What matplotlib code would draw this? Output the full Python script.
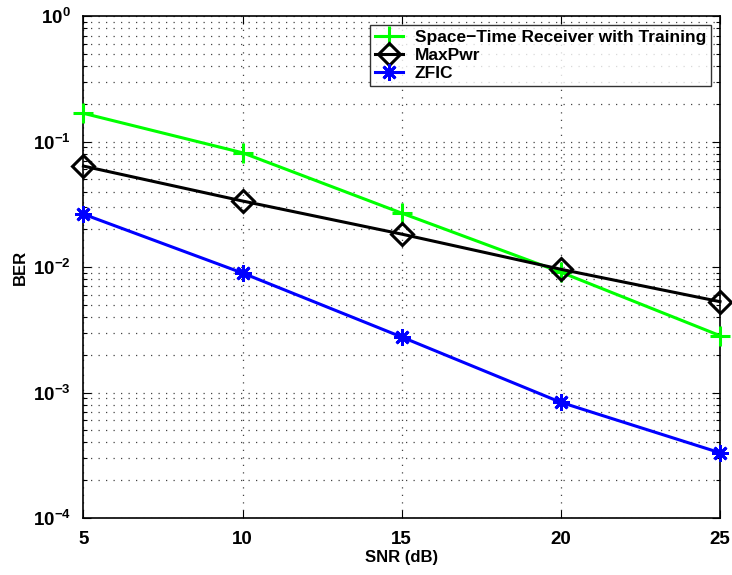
import matplotlib
matplotlib.use("Agg")
import matplotlib.pyplot as plt
from matplotlib.ticker import LogLocator, NullFormatter, FixedLocator

plt.rcParams['font.family'] = ['Liberation Sans', 'DejaVu Sans']
plt.rcParams['font.weight'] = 'bold'
plt.rcParams['mathtext.default'] = 'bf'

snr_db = [5, 10, 15, 20, 25]
ber_space_time = [0.168, 0.0814, 0.0269, 0.0091, 0.00284]
ber_maxpwr = [0.0638, 0.0336, 0.0183, 0.0096, 0.0053]
ber_zfic = [0.0264, 0.00896, 0.00277, 0.000835, 0.000331]
x_ticks = [5, 10, 15, 20, 25]

fig = plt.figure(figsize=(7.32, 5.75), dpi=100)
ax = fig.add_axes([0.114, 0.0991, 0.8696, 0.8729])

ax.semilogy(snr_db, ber_space_time, color='#00ff00', lw=2.2, marker='+',
            ms=14, mew=2.2, label='Space\u2212Time Receiver with Training',
            clip_on=False, zorder=3)
ax.semilogy(snr_db, ber_maxpwr, color='black', lw=2.2, marker='D',
            ms=11, mew=2.2, mfc='none', label='MaxPwr', clip_on=False, zorder=3)
ax.semilogy(snr_db, ber_zfic, color='blue', lw=2.2, marker=(8, 2, 0),
            ms=12, mew=2.0, label='ZFIC', clip_on=False, zorder=3)

ax.set_xlim(5, 25)
ax.set_ylim(1e-4, 1)
ax.xaxis.set_major_locator(FixedLocator(x_ticks))
ax.yaxis.set_major_locator(LogLocator(base=10, numticks=10))
ax.yaxis.set_minor_locator(LogLocator(base=10, subs=range(2, 10), numticks=20))
ax.yaxis.set_minor_formatter(NullFormatter())

grid_style = dict(linestyle=(0, (1, 5)), color='#444444', lw=0.9)
ax.grid(True, which='major', axis='both', **grid_style)
ax.grid(True, which='minor', axis='y', **grid_style)

ax.tick_params(which='both', direction='in', top=True, right=True, labelsize=13.5, pad=9)
ax.tick_params(which='major', length=6, width=0.8)
ax.tick_params(which='minor', length=3, width=0.8)
for s in ax.spines.values():
    s.set_linewidth(1.2)

ax.set_xlabel('SNR (dB)', fontsize=12, fontweight='bold')
ax.set_ylabel('BER', fontsize=12, fontweight='bold')
ax.xaxis.set_label_coords(0.5, -0.064)
ax.yaxis.set_label_coords(-0.087, 0.5)

leg = ax.legend(loc='upper right', fontsize=12.5, frameon=True, fancybox=False,
                edgecolor='black', handlelength=1.6, handletextpad=0.7,
                borderpad=0.3, labelspacing=0.15, borderaxespad=0.5)
leg.get_frame().set_linewidth(1.0)
leg.set_zorder(5)
for t in leg.get_texts():
    t.set_fontweight('bold')

fig.savefig('out.png', dpi=100)
